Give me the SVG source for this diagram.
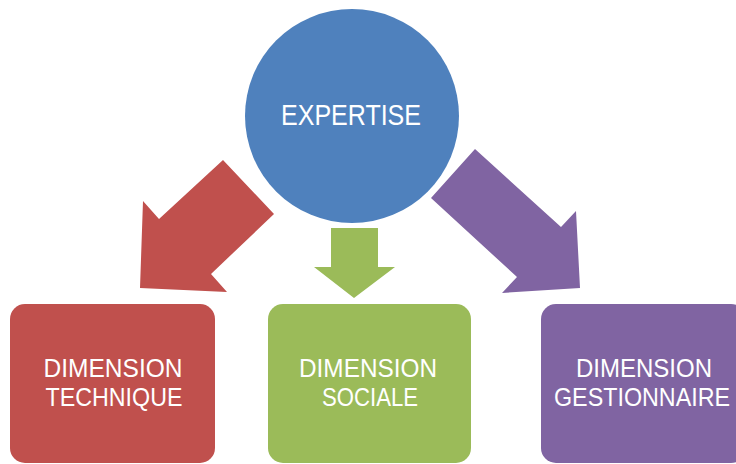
<svg xmlns="http://www.w3.org/2000/svg" width="736" height="464" viewBox="0 0 736 464">
<style>
.t{font-family:"Liberation Sans",Arial,sans-serif;fill:#fff;text-anchor:middle}
.b{font-size:26px}
</style>
<rect width="736" height="464" fill="#fff"/>
<g id="connectors">
<polygon points="223,160 274,214 211,274 227,292 140,288 143,201 159,219" fill="#C0504D"/>
<polygon points="331,228 378,228 378,267 395,267 354,298 314,267 331,267" fill="#9BBB59"/>
<polygon points="475,149 561,227 576,211 580,288 502,293 517,277 431,198" fill="#8064A2"/>
</g>
<g id="expertise">
<circle cx="352" cy="116" r="107" fill="#4F81BD"/>
<text class="t" x="351" y="125" font-size="30" textLength="140" lengthAdjust="spacingAndGlyphs">EXPERTISE</text>
</g>
<g id="technique">
<rect x="10" y="304" width="205" height="159" rx="15" fill="#C0504D"/>
<text class="t b" x="113" y="377" textLength="139" lengthAdjust="spacingAndGlyphs">DIMENSION</text>
<text class="t b" x="114" y="406" textLength="137" lengthAdjust="spacingAndGlyphs">TECHNIQUE</text>
</g>
<g id="sociale">
<rect x="268" y="304" width="203" height="159" rx="15" fill="#9BBB59"/>
<text class="t b" x="368" y="377" textLength="138" lengthAdjust="spacingAndGlyphs">DIMENSION</text>
<text class="t b" x="370" y="406" textLength="96" lengthAdjust="spacingAndGlyphs">SOCIALE</text>
</g>
<g id="gestionnaire">
<rect x="541" y="304" width="205" height="159" rx="15" fill="#8064A2"/>
<text class="t b" x="644" y="377" textLength="136" lengthAdjust="spacingAndGlyphs">DIMENSION</text>
<text class="t b" x="642" y="406" textLength="176" lengthAdjust="spacingAndGlyphs">GESTIONNAIRE</text>
</g>
</svg>
